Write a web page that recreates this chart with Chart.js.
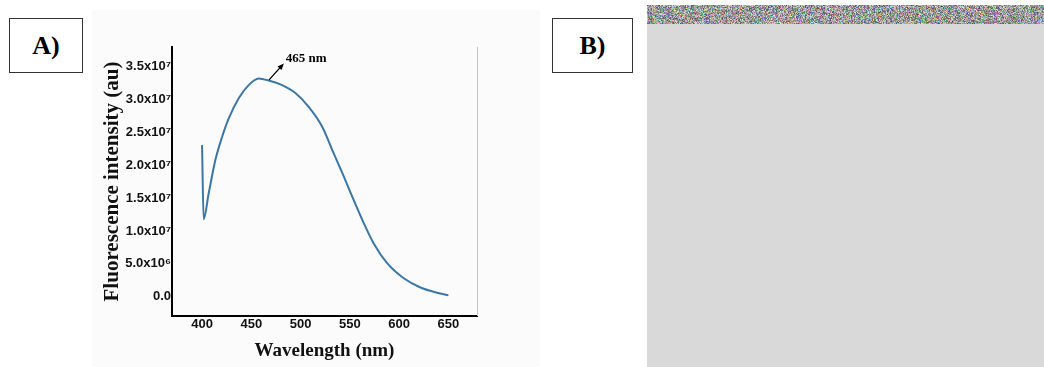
<!DOCTYPE html>
<html>
<head>
<meta charset="utf-8">
<script src="https://cdn.jsdelivr.net/npm/chart.js@4"></script>
<style>
body { margin: 0; width: 1044px; height: 367px; background: #fff; position: relative; overflow: hidden; font-family: "Liberation Serif", "Times New Roman", serif; }
.tag { position: absolute; box-sizing: border-box; border: 1.5px solid #333; background: #fff; font-weight: bold; font-size: 26px; display: flex; align-items: center; justify-content: center; }
#wrapA { position: absolute; left: 92px; top: 10px; width: 448px; height: 357px; background: #fbfbfb; }
#panelB { position: absolute; left: 647px; top: 5px; }
</style>
</head>
<body>
<div class="tag" style="left:9px;top:18px;width:74px;height:55px">A)</div>
<div class="tag" style="left:552px;top:18px;width:81px;height:55px">B)</div>
<div id="wrapA"><canvas id="spectrumChart"></canvas></div>
<canvas id="panelB" width="397" height="362"></canvas>
<script>
// emission spectrum
const wavelengths = [400, 401.6, 406.7, 413.5, 420.3, 427, 437.2, 447.3, 457.5, 467.6, 481.2, 494.7, 508.2, 521.8, 533.6, 543.8, 553.9, 564.1, 574.2, 587.8, 604.7, 621.6, 638.6, 650];
const intensity = [23.1e6, 11.8e6, 15.7e6, 20.8e6, 24.3e6, 27.1e6, 30.2e6, 32.2e6, 33.2e6, 32.9e6, 32.2e6, 31.0e6, 28.9e6, 25.9e6, 21.8e6, 18.3e6, 14.7e6, 11.2e6, 8.1e6, 5.1e6, 2.8e6, 1.4e6, 0.6e6, 0.2e6];

const xTicks = [400, 450, 500, 550, 600, 650];
const xTickLabels = ['400', '450', '500', '550', '600', '650'];
const yTicks = [0, 5e6, 10e6, 15e6, 20e6, 25e6, 30e6, 35e6];
const yTickLabels = ['0.0', '5.0x10\u2076', '1.0x10\u2077', '1.5x10\u2077', '2.0x10\u2077', '2.5x10\u2077', '3.0x10\u2077', '3.5x10\u2077'];

const peakLabel = '465 nm';
const arrowFrom = [468, 33.0e6];
const arrowTo = [483, 35.5e6];

const annotate = {
    id: 'annotate',
    afterDatasetsDraw(chart) {
        const { ctx, chartArea, scales } = chart;
        ctx.save();
        // faint right frame line
        ctx.strokeStyle = '#c4c4c4';
        ctx.lineWidth = 1;
        ctx.beginPath();
        ctx.moveTo(chartArea.right + 0.5, chartArea.top);
        ctx.lineTo(chartArea.right + 0.5, chartArea.bottom);
        ctx.stroke();

        const x0 = scales.x.getPixelForValue(arrowFrom[0]);
        const y0 = scales.y.getPixelForValue(arrowFrom[1]);
        const x1 = scales.x.getPixelForValue(arrowTo[0]);
        const y1 = scales.y.getPixelForValue(arrowTo[1]);
        const ang = Math.atan2(y1 - y0, x1 - x0);
        ctx.strokeStyle = '#000';
        ctx.fillStyle = '#000';
        ctx.lineWidth = 1.3;
        ctx.beginPath();
        ctx.moveTo(x0, y0);
        ctx.lineTo(x1 - 4 * Math.cos(ang), y1 - 4 * Math.sin(ang));
        ctx.stroke();
        ctx.beginPath();
        ctx.moveTo(x1, y1);
        ctx.lineTo(x1 - 7 * Math.cos(ang - 0.4), y1 - 7 * Math.sin(ang - 0.4));
        ctx.lineTo(x1 - 7 * Math.cos(ang + 0.4), y1 - 7 * Math.sin(ang + 0.4));
        ctx.closePath();
        ctx.fill();

        ctx.font = 'bold 13px "Liberation Serif", serif';
        ctx.textAlign = 'left';
        ctx.textBaseline = 'middle';
        ctx.fillText(peakLabel, x1 + 2, y1 - 5);
        ctx.restore();
    }
};

new Chart(document.getElementById('spectrumChart').getContext('2d'), {
    type: 'line',
    data: {
        datasets: [{
            data: wavelengths.map((w, i) => ({ x: w, y: intensity[i] })),
            borderColor: '#3a76a6',
            borderWidth: 2,
            pointRadius: 0,
            fill: false,
            cubicInterpolationMode: 'monotone'
        }]
    },
    options: {
        responsive: true,
        maintainAspectRatio: false,
        animation: false,
        layout: { padding: { left: 0, right: 63, top: 37, bottom: 0 } },
        plugins: { legend: { display: false }, tooltip: { enabled: false } },
        scales: {
            x: {
                type: 'linear',
                min: 369.5,
                max: 679,
                afterBuildTicks: s => { s.ticks = xTicks.map(v => ({ value: v })); },
                afterFit: s => { s.height = 51; },
                grid: { display: false, drawTicks: false },
                border: { color: '#000', width: 2 },
                ticks: {
                    padding: 1,
                    color: '#111',
                    font: { family: '"Liberation Sans", Arial, sans-serif', size: 13, weight: 'bold' },
                    callback: (v, i) => xTickLabels[i]
                },
                title: {
                    display: true,
                    text: 'Wavelength (nm)',
                    color: '#111',
                    padding: { top: 0, bottom: 5 },
                    font: { family: '"Liberation Serif", serif', size: 19, weight: 'bold' }
                }
            },
            y: {
                min: -2.94e6,
                max: 38e6,
                afterBuildTicks: s => { s.ticks = yTicks.map(v => ({ value: v })); },
                afterFit: s => { s.width = 80; },
                grid: { display: false, drawTicks: false },
                border: { color: '#000', width: 2 },
                ticks: {
                    padding: 1,
                    color: '#111',
                    font: { family: '"Liberation Sans", Arial, sans-serif', size: 13, weight: 'bold' },
                    callback: (v, i) => yTickLabels[i]
                },
                title: {
                    display: true,
                    text: 'Fluorescence intensity (au)',
                    color: '#111',
                    padding: { top: 8, bottom: 0 },
                    font: { family: '"Liberation Serif", serif', size: 21, weight: 'bold' }
                }
            }
        }
    },
    plugins: [annotate]
});

// panel B: blank grey image with a corrupted strip on top
const cb = document.getElementById('panelB').getContext('2d');
cb.fillStyle = '#d9d9d9';
cb.fillRect(0, 0, 397, 362);
function hash(i) {
    let x = Math.imul(i ^ 0x9e3779b9, 0x85ebca6b);
    x ^= x >>> 13;
    x = Math.imul(x, 0xc2b2ae35);
    x ^= x >>> 16;
    return (x >>> 0) / 4294967296;
}
for (let yy = 0; yy < 19; yy += 1) {
    for (let xx = 0; xx < 397; xx += 1) {
        const k = yy * 397 + xx;
        const base = 60 + Math.floor(hash(k * 4 + 3) * 110);
        const r = base + Math.floor(hash(k * 4) * 80);
        const g = base + Math.floor(hash(k * 4 + 1) * 80);
        const b = base + Math.floor(hash(k * 4 + 2) * 80);
        cb.fillStyle = 'rgb(' + r + ',' + g + ',' + b + ')';
        cb.fillRect(xx, yy, 1, 1);
    }
}
</script>
</body>
</html>
